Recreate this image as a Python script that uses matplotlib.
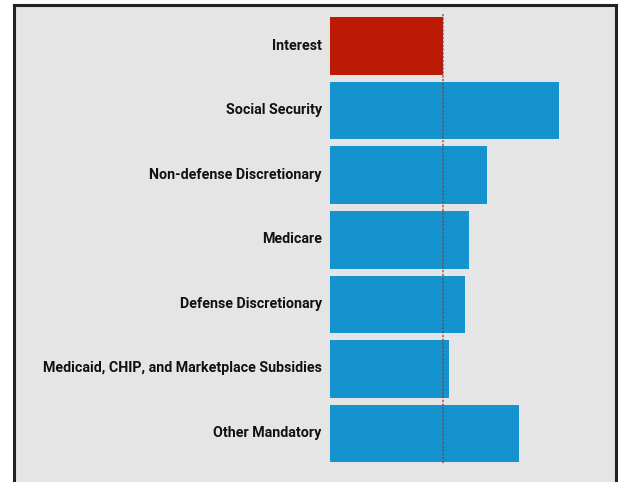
import matplotlib
matplotlib.use("Agg")
import matplotlib.pyplot as plt
from matplotlib.lines import Line2D
from matplotlib.patches import Rectangle
from matplotlib.transforms import ScaledTranslation

categories = ['Interest', 'Social Security', 'Non-defense Discretionary', 'Medicare',
              'Defense Discretionary', 'Medicaid, CHIP, and Marketplace Subsidies',
              'Other Mandatory']
values = [881, 1786, 1225, 1084, 1053, 928, 1474]
colors = ['#bd1a05'] + ['#1493cf'] * 6

W, H = 619, 482
fig = plt.figure(figsize=(W / 100, H / 100), dpi=100)
fig.patch.set_facecolor('white')

# gray panel with a dark frame (no bottom edge)
x0, x1, ytop = 13.5 / W, 615.5 / W, 1 - 4.5 / H
fig.add_artist(Rectangle((x0, 0), x1 - x0, ytop, transform=fig.transFigure,
                         facecolor='#e5e5e5', edgecolor='none', zorder=0))
for xs, ys in [([x0, x0], [0, ytop]), ([x0, x1], [ytop, ytop]), ([x1, x1], [ytop, 0])]:
    fig.add_artist(Line2D(xs, ys, transform=fig.transFigure, color='#222222', lw=2.2))

ax = fig.add_axes([330 / W, 0, (615 - 330) / W, (H - 5) / H])
ax.set_facecolor('none')
ypos = list(range(len(categories)))
ax.barh(ypos, values, height=0.89, color=colors, zorder=2)
ax.vlines(values[0], -0.5, 6.47, colors='#7a4048', linestyles=(0, (1.5, 1)),
          lw=1.1, alpha=0.8, zorder=3)

ax.set_xlim(0, (615 - 330) / 113 * values[0])
ax.set_ylim(6.75, -0.635)
ax.set_yticks(ypos)
ax.set_yticklabels(categories, fontfamily='Roboto', fontweight='bold',
                   fontsize=10.3, color='#111111')
ax.tick_params(axis='y', length=0, pad=6)
shift = ScaledTranslation(0, 2 / 100, fig.dpi_scale_trans)
for lbl in ax.get_yticklabels():
    lbl.set_transform(lbl.get_transform() + shift)
ax.set_xticks([])
for s in ax.spines.values():
    s.set_visible(False)

fig.savefig('out.png', dpi=100)
